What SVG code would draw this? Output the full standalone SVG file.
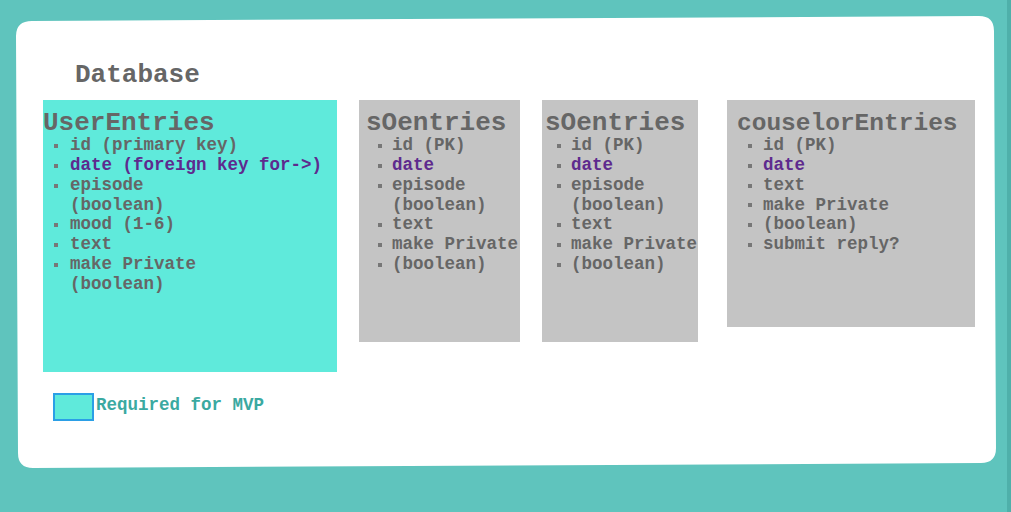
<svg xmlns="http://www.w3.org/2000/svg" width="1011" height="512" viewBox="0 0 1011 512">
<style>
.t{font-family:"Liberation Mono","Courier New",monospace;font-weight:bold;font-size:26px;fill:#666666}
.i{font-family:"Liberation Mono","Courier New",monospace;font-weight:bold;font-size:17.5px;fill:#666666}
.p{fill:#5e2a8e}
.b{fill:#777777}
.gray{fill:#c4c4c4}
</style>
<rect x="0" y="0" width="1011" height="512" fill="#5fc4bd"/>
<rect x="1007" y="0" width="4" height="512" fill="#4fb0aa"/>
<path d="M32,21 L979,16 Q994,16 994,31 L996,448 Q996,463 981,463 L33,468 Q18,468 18,453 L16,36 Q16,21 32,21 Z" fill="#ffffff"/>
<text class="t" x="75" y="82">Database</text>
<g id="userEntries">
<rect x="43" y="100" width="294" height="272" fill="#5feadb"/>
<text class="t" x="43" y="130">UserEntries</text>
<g class="b"><rect x="54" y="144" width="4" height="4"/><rect x="54" y="164" width="4" height="4"/><rect x="54" y="184" width="4" height="4"/><rect x="54" y="223" width="4" height="4"/><rect x="54" y="243" width="4" height="4"/><rect x="54" y="263" width="4" height="4"/></g>
<text class="i" x="70" y="150">id (primary key)</text>
<text class="i p" x="70" y="170">date (foreign key for-&gt;)</text>
<text class="i" x="70" y="190">episode</text>
<text class="i" x="70" y="210">(boolean)</text>
<text class="i" x="70" y="229">mood (1-6)</text>
<text class="i" x="70" y="249">text</text>
<text class="i" x="70" y="269">make Private</text>
<text class="i" x="70" y="289">(boolean)</text>
</g>
<g id="sOentries1">
<rect x="359" y="100" width="161" height="242" class="gray"/>
<text class="t" x="366" y="130">sOentries</text>
<g class="b"><rect x="378" y="144" width="4" height="4"/><rect x="378" y="164" width="4" height="4"/><rect x="378" y="184" width="4" height="4"/><rect x="378" y="223" width="4" height="4"/><rect x="378" y="243" width="4" height="4"/><rect x="378" y="263" width="4" height="4"/></g>
<text class="i" x="392" y="150">id (PK)</text>
<text class="i p" x="392" y="170">date</text>
<text class="i" x="392" y="190">episode</text>
<text class="i" x="392" y="210">(boolean)</text>
<text class="i" x="392" y="229">text</text>
<text class="i" x="392" y="249">make Private</text>
<text class="i" x="392" y="269">(boolean)</text>
</g>
<g id="sOentries2">
<rect x="542" y="100" width="156" height="242" class="gray"/>
<text class="t" x="545" y="130">sOentries</text>
<g class="b"><rect x="557" y="144" width="4" height="4"/><rect x="557" y="164" width="4" height="4"/><rect x="557" y="184" width="4" height="4"/><rect x="557" y="223" width="4" height="4"/><rect x="557" y="243" width="4" height="4"/><rect x="557" y="263" width="4" height="4"/></g>
<text class="i" x="571" y="150">id (PK)</text>
<text class="i p" x="571" y="170">date</text>
<text class="i" x="571" y="190">episode</text>
<text class="i" x="571" y="210">(boolean)</text>
<text class="i" x="571" y="229">text</text>
<text class="i" x="571" y="249">make Private</text>
<text class="i" x="571" y="269">(boolean)</text>
</g>
<g id="couselorEntries">
<rect x="727" y="100" width="248" height="227" class="gray"/>
<text class="t" x="737" y="130" style="font-size:24.5px">couselorEntries</text>
<g class="b"><rect x="748" y="144" width="4" height="4"/><rect x="748" y="164" width="4" height="4"/><rect x="748" y="184" width="4" height="4"/><rect x="748" y="203" width="4" height="4"/><rect x="748" y="223" width="4" height="4"/><rect x="748" y="243" width="4" height="4"/></g>
<text class="i" x="763" y="150">id (PK)</text>
<text class="i p" x="763" y="170">date</text>
<text class="i" x="763" y="190">text</text>
<text class="i" x="763" y="210">make Private</text>
<text class="i" x="763" y="229">(boolean)</text>
<text class="i" x="763" y="249">submit reply?</text>
</g>
<g id="legend">
<rect x="54" y="394" width="39" height="26" fill="#5feadb" stroke="#2b9fe6" stroke-width="2"/>
<text class="i" x="96" y="410" style="fill:#3aa9a1">Required for MVP</text>
</g>
<g id="connectors"></g>
</svg>
